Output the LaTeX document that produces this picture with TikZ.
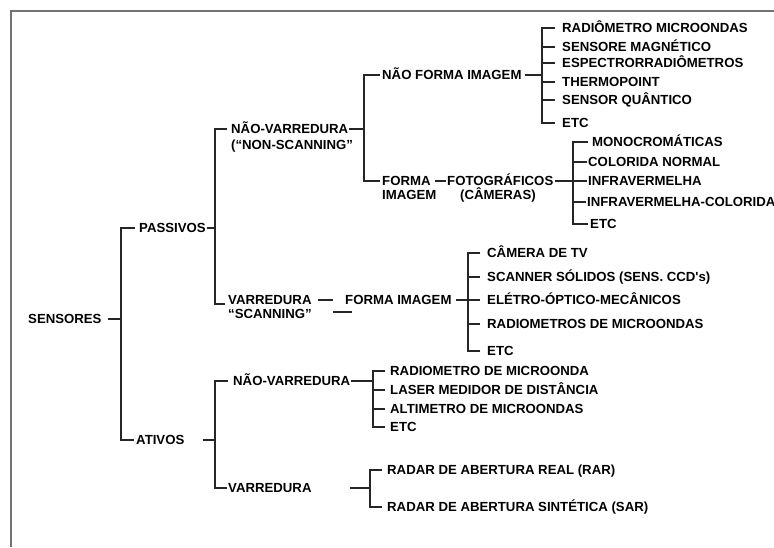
\documentclass[tikz,border=0pt]{standalone}
\usepackage{fontspec}
\newfontfamily\lbfamily{Liberation Sans}
\begin{document}
\begin{tikzpicture}[x=1pt,y=-1pt,
  lbl/.style={anchor=west, inner sep=0pt, font=\lbfamily\bfseries\fontsize{13.2}{15}\selectfont, text height=9.5pt, text depth=0pt},
  wire/.style={line width=1.4pt, draw=black!85},
  frameline/.style={line width=1.8pt, draw=black!55}]
\useasboundingbox (0,0) rectangle (774,547);
\draw[frameline] (11,547) -- (11,11) -- (774,11);

% bus coordinates
\coordinate (b0) at (121,0);
\coordinate (b1) at (215,0);
\coordinate (b2) at (364,0);
\coordinate (b3) at (542,0);
\coordinate (b4) at (573,0);
\coordinate (b5) at (468,0);
\coordinate (b6) at (215,0);
\coordinate (b7) at (373,0);
\coordinate (b8) at (370,0);

% level 0-1
\node[lbl] (sens) at (28,319) {SENSORES};
\node[lbl] (pas) at (139,228) {PASSIVOS};
\node[lbl] (ati) at (136,440) {ATIVOS};

% passivos
\node[lbl] (nv1) at (231,129) {NÃO-VARREDURA};
\node[lbl] (nv1b) at (231,145) {(“NON-SCANNING”};
\node[lbl] (var1) at (228,300) {VARREDURA};
\node[lbl] (scan) at (228,314) {“SCANNING”};

\node[lbl] (nfi) at (382,75) {NÃO FORMA IMAGEM};
\node[lbl] (forma) at (382,181) {FORMA};
\node[lbl] (imag) at (382,195) {IMAGEM};
\node[lbl] (foto) at (447,181) {FOTOGRÁFICOS};
\node[lbl] (cam) at (460,195) {(CÂMERAS)};

\node[lbl] (u1) at (562,28) {RADIÔMETRO MICROONDAS};
\node[lbl] (u2) at (562,47) {SENSORE MAGNÉTICO};
\node[lbl] (u3) at (562,63) {ESPECTRORRADIÔMETROS};
\node[lbl] (u4) at (562,82) {THERMOPOINT};
\node[lbl] (u5) at (562,100) {SENSOR QUÂNTICO};
\node[lbl] (u6) at (562,123) {ETC};

\node[lbl] (p1) at (592,142) {MONOCROMÁTICAS};
\node[lbl] (p2) at (588,162) {COLORIDA NORMAL};
\node[lbl] (p3) at (588,181) {INFRAVERMELHA};
\node[lbl] (p4) at (587,202) {INFRAVERMELHA-COLORIDA};
\node[lbl] (p5) at (590,224) {ETC};

\node[lbl] (fi2) at (345,300) {FORMA IMAGEM};
\node[lbl] (s1) at (487,253) {CÂMERA DE TV};
\node[lbl] (s2) at (487,277) {SCANNER SÓLIDOS (SENS. CCD's)};
\node[lbl] (s3) at (487,300) {ELÉTRO-ÓPTICO-MECÂNICOS};
\node[lbl] (s4) at (487,324) {RADIOMETROS DE MICROONDAS};
\node[lbl] (s5) at (487,351) {ETC};

% ativos
\node[lbl] (nv2) at (233,381) {NÃO-VARREDURA};
\node[lbl] (var2) at (228,488) {VARREDURA};
\node[lbl] (a1) at (390,371) {RADIOMETRO DE MICROONDA};
\node[lbl] (a2) at (390,390) {LASER MEDIDOR DE DISTÂNCIA};
\node[lbl] (a3) at (390,409) {ALTIMETRO DE MICROONDAS};
\node[lbl] (a4) at (390,427) {ETC};
\node[lbl] (r1) at (387,470) {RADAR DE ABERTURA REAL (RAR)};
\node[lbl] (r2) at (387,507) {RADAR DE ABERTURA SINTÉTICA (SAR)};

% connectors level 0
\draw[wire] ([xshift=6pt]sens.east) -- (sens.east -| b0);
\draw[wire] ([xshift=-4pt]pas.west) -| (b0 |- ati.west) -- ([xshift=-2pt]ati.west);

% passivos branch
\draw[wire] ([xshift=1pt]pas.east) -- (pas.east -| b1);
\coordinate (c1) at ([xshift=-3pt,yshift=-4pt]var1.west);
\draw[wire] ([xshift=-4pt]nv1.west) -| (b1 |- c1) -- (c1);

\draw[wire] ([xshift=1pt]nv1.east) -- (nv1.east -| b2);
\draw[wire] ([xshift=-2pt]nfi.west) -| (b2 |- forma.west) -- ([xshift=-2pt]forma.west);

\draw[wire] ([xshift=3pt]nfi.east) -- (nfi.east -| b3);
\draw[wire] ([xshift=-7pt]u1.west) -| (b3 |- u6.west) -- ([xshift=-7pt]u6.west);
\foreach \n in {u2,u3,u4,u5} \draw[wire] (b3 |- \n.west) -- ([xshift=-7pt]\n.west);

\draw[wire] ([xshift=4pt]forma.east) -- ([xshift=-1pt]foto.west);
\draw[wire] ([xshift=2pt]foto.east) -- (foto.east -| b4);
\draw[wire] ([xshift=-4pt]p1.west) -| (b4 |- p5.west) -- ([xshift=-2pt]p5.west);
\foreach \n in {p2,p3,p4} \draw[wire] (b4 |- \n.west) -- ([xshift=-1pt]\n.west);

\draw[wire] ([xshift=6pt]var1.east) -- ([xshift=-12pt]fi2.west);
\draw[wire] ([xshift=21pt,yshift=2pt]scan.east) -- ([xshift=40pt,yshift=2pt]scan.east);
\draw[wire] ([xshift=4pt]fi2.east) -- (fi2.east -| b5);
\draw[wire] ([xshift=-7pt]s1.west) -| (b5 |- s5.west) -- ([xshift=-7pt]s5.west);
\foreach \n in {s2,s3,s4} \draw[wire] (b5 |- \n.west) -- ([xshift=-7pt]\n.west);

% ativos branch
\draw[wire] ([xshift=18pt]ati.east) -- (ati.east -| b6);
\draw[wire] ([xshift=-5pt]nv2.west) -| (b6 |- var2.west) -- ([xshift=-1pt]var2.west);

\draw[wire] ([xshift=1pt]nv2.east) -- (nv2.east -| b7);
\draw[wire] ([xshift=-5pt]a1.west) -| (b7 |- a4.west) -- ([xshift=-5pt]a4.west);
\foreach \n in {a2,a3} \draw[wire] (b7 |- \n.west) -- ([xshift=-5pt]\n.west);

\draw[wire] ([xshift=38pt]var2.east) -- (var2.east -| b8);
\draw[wire] ([xshift=-5pt]r1.west) -| (b8 |- r2.west) -- ([xshift=-5pt]r2.west);
\end{tikzpicture}
\end{document}
